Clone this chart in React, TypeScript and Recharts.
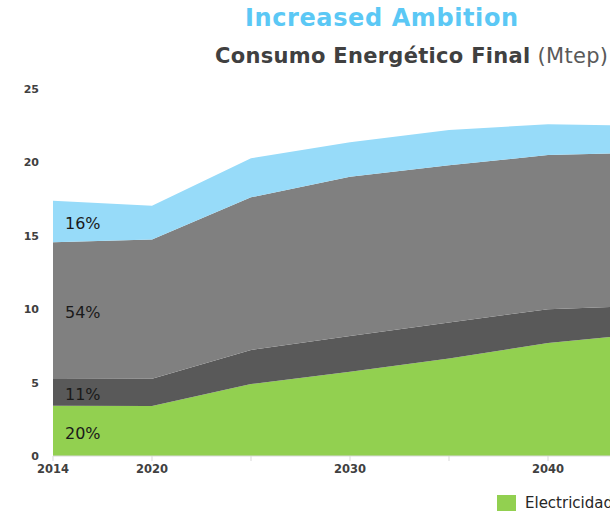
import { Area, AreaChart, ReferenceDot, XAxis, YAxis } from "recharts";

const years = ["2014", "2020", "2025", "2030", "2035", "2040", "2045"];
const yearLabels = ["2014", "2020", "", "2030", "", "2040", ""];
const yTicks = [0, 5, 10, 15, 20, 25];

// Mtep por fuente (apiladas de abajo hacia arriba)
const electricidad = [3.43, 3.4, 4.9, 5.74, 6.65, 7.7, 8.35];
const gasNatural = [1.82, 1.87, 2.32, 2.43, 2.45, 2.3, 1.9];
const petroleo = [9.31, 9.47, 10.4, 10.86, 10.7, 10.5, 10.41];
const renovables = [2.83, 2.31, 2.66, 2.34, 2.4, 2.1, 1.84];

const shares2014 = ["20%", "11%", "54%", "16%"];

const series = [
  { key: "electricidad", name: "Electricidad", color: "#92d050", values: electricidad },
  { key: "gasNatural", name: "Gas Natural", color: "#595959", values: gasNatural },
  { key: "petroleo", name: "Petróleo", color: "#808080", values: petroleo },
  { key: "renovables", name: "Renovables", color: "#97dbf9", values: renovables },
];

const data = years.map((year, i) => ({
  year,
  electricidad: electricidad[i],
  gasNatural: gasNatural[i],
  petroleo: petroleo[i],
  renovables: renovables[i],
}));

// punto medio de cada banda en 2014, para las etiquetas de porcentaje
const firstValues = series.map((s) => s.values[0]);
const bandMids = firstValues.map(
  (v, i) => firstValues.slice(0, i).reduce((a, b) => a + b, 0) + v / 2
);

const font = "'DejaVu Sans', Verdana, sans-serif";

export default function App() {
  return (
    <div
      style={{
        position: "fixed",
        left: 0,
        top: 0,
        width: 610,
        height: 513,
        overflow: "hidden",
        background: "#fff",
        fontFamily: font,
      }}
    >
      <div style={{ position: "relative", width: 760, height: 513 }}>
        <div
          style={{
            position: "absolute",
            left: 245,
            top: 4,
            fontSize: 24,
            letterSpacing: 0.6,
            fontWeight: "bold",
            color: "#5bc8f5",
            whiteSpace: "nowrap",
          }}
        >
          Increased Ambition
        </div>
        <div
          style={{
            position: "absolute",
            left: 215,
            top: 44,
            fontSize: 21,
            letterSpacing: 0.3,
            color: "#404040",
            whiteSpace: "nowrap",
          }}
        >
          <b>Consumo Energético Final</b>{" "}
          <span style={{ color: "#595959" }}>(Mtep)</span>
        </div>

        <div style={{ position: "absolute", left: 0, top: 0 }}>
          <AreaChart
            width={760}
            height={513}
            data={data}
            margin={{ top: 89, right: 113, bottom: 37, left: 0 }}
          >
            <XAxis
              dataKey="year"
              interval={0}
              tickFormatter={(_v: string, i: number) => yearLabels[i]}
              axisLine={{ stroke: "#d9d9d9" }}
              tickLine={{ stroke: "#d9d9d9" }}
              tickSize={5}
              tickMargin={4}
              height={20}
              tick={{ fontSize: 11.5, fontWeight: "bold", fill: "#404040", fontFamily: font }}
            />
            <YAxis
              domain={[0, 25]}
              ticks={yTicks}
              width={53}
              axisLine={false}
              tickLine={false}
              tickSize={0}
              tickMargin={14}
              tick={{ fontSize: 11, fontWeight: "bold", fill: "#404040", fontFamily: font }}
            />
            {series.map((s) => (
              <Area
                key={s.key}
                type="linear"
                dataKey={s.key}
                name={s.name}
                stackId="1"
                stroke="none"
                fill={s.color}
                fillOpacity={1}
                isAnimationActive={false}
              />
            ))}
            {shares2014.map((share, i) => (
              <ReferenceDot
                key={share + i}
                x={years[0]}
                y={bandMids[i]}
                r={0}
                fill="none"
                stroke="none"
                label={{
                  value: share,
                  position: "right",
                  offset: 12,
                  dy: 2,
                  fill: "#1a1a1a",
                  fontSize: 16,
                  fontFamily: font,
                }}
              />
            ))}
          </AreaChart>
        </div>

        <div
          style={{
            position: "absolute",
            left: 497,
            top: 494,
            display: "flex",
            alignItems: "center",
            whiteSpace: "nowrap",
          }}
        >
          <span
            style={{
              display: "inline-block",
              width: 19,
              height: 16,
              background: series[0].color,
              marginRight: 9,
            }}
          />
          <span style={{ fontSize: 15, color: "#262626" }}>{series[0].name}</span>
        </div>
      </div>
    </div>
  );
}
